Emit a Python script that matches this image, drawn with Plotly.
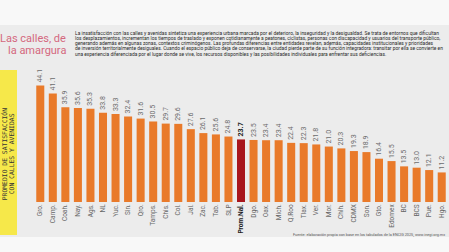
import plotly.graph_objects as go

W, H = 449, 252

states = ["Gro.", "Camp.", "Coah.", "Nay.", "Ags.", "NL", "Yuc.", "Sin.", "Qro.", "Tamps.",
          "Chis.", "Col.", "Jal.", "Zac.", "Tab.", "SLP", "Prom.Nal.", "Dgo.", "Oax.", "Mich.",
          "Q.Roo", "Tlax.", "Ver.", "Mor.", "Chih.", "CDMX", "Son.", "Gto.", "Edomex", "BC",
          "BCS", "Pue.", "Hgo."]
values = [44.1, 41.1, 35.9, 35.6, 35.3, 33.8, 33.3, 32.4, 31.6, 30.5,
          29.7, 29.6, 27.6, 26.1, 25.6, 24.8, 23.7, 23.5, 23.4, 23.4,
          22.4, 22.3, 21.8, 21.0, 20.3, 19.3, 18.9, 16.4, 15.5, 13.5,
          13.0, 12.1, 11.2]
national = "Prom.Nal."

title_lines = ["Las calles, de", "la amargura"]
body_lines = [
    "La insatisfacción con las calles y avenidas sintetiza una experiencia urbana marcada por el deterioro, la inseguridad y la desigualdad. Se trata de entornos que dificultan",
    "los desplazamientos, incrementan los tiempos de traslado y exponen cotidianamente a peatones, ciclistas, personas con discapacidad y usuarios del transporte público,",
    "generando además en algunas zonas, contextos criminógenos. Las profundas diferencias entre entidades revelan, además, capacidades institucionales y prioridades",
    "de inversión territorialmente desiguales. Cuando el espacio público deja de conservarse, la ciudad pierde parte de su función integradora: transitar por ella se convierte en",
    "una experiencia diferenciada por el lugar donde se vive, los recursos disponibles y las posibilidades individuales para enfrentar sus deficiencias.",
]
side_lines = ["PROMEDIO DE SATISFACCIÓN", "CON CALLES Y AVENIDAS"]
source = "Fuente: elaboración propia con base en los tabulados de la ENCIG 2025, www.inegi.org.mx"

ORANGE = "#e97a2a"
DARKRED = "#a8161d"
SANS = "Roboto, Liberation Sans, Arial, sans-serif"

def px(x):
    return x / W

def py(y):
    return 1 - y / H

colors = [DARKRED if s == national else ORANGE for s in states]
texts = [f"<b>{v:.1f}</b>" if s == national else f"{v:.1f}" for s, v in zip(states, values)]
tcolors = ["#222222" if s == national else "#6b6b6b" for s in states]
ticktext = [f"<b><span style='color:#222'>{s}</span></b>" if s == national else s for s in states]

fig = go.Figure(go.Bar(
    x=states, y=values, marker_color=colors, marker_line_width=0,
    text=texts, textposition="outside", textangle=-90, constraintext="none",
    textfont=dict(family=SANS, size=7, color=tcolors), cliponaxis=False,
    hoverinfo="skip",
))

shapes = [
    dict(type="rect", xref="paper", yref="paper", x0=0, x1=1, y0=py(237), y1=py(25),
         fillcolor="#ececec", line_width=0, layer="below"),
    dict(type="rect", xref="paper", yref="paper", x0=0, x1=px(17), y0=py(235), y1=py(70),
         fillcolor="#f6e84a", line_width=0, layer="below"),
]

ann = []
for i, t in enumerate(title_lines):
    ann.append(dict(text=t, x=px(68), y=py(38 + 13 * i), xref="paper", yref="paper",
                    xanchor="right", yanchor="middle", showarrow=False,
                    font=dict(family=SANS, size=11, color="#d4687e")))
for i, t in enumerate(body_lines):
    ann.append(dict(text=t, x=px(73), y=py(32.5 + 5.3 * i), xref="paper", yref="paper",
                    xanchor="left", yanchor="middle", showarrow=False,
                    font=dict(family=SANS, size=4.9, color="#2a2a2a")))
for i, t in enumerate(side_lines):
    ann.append(dict(text=t, x=px(5.3 + 7 * i), y=py(154), xref="paper", yref="paper",
                    xanchor="center", yanchor="middle", textangle=-90, showarrow=False,
                    font=dict(family="DejaVu Sans Mono, monospace", size=6.4, color="#333333")))
ann.append(dict(text=source, x=px(447), y=py(234), xref="paper", yref="paper",
                xanchor="right", yanchor="middle", showarrow=False,
                font=dict(family=SANS, size=3.8, color="#555555")))

fig.update_layout(
    width=W, height=H, margin=dict(l=0, r=0, t=0, b=0),
    paper_bgcolor="#f8f8f8", plot_bgcolor="rgba(0,0,0,0)",
    bargap=0.36, showlegend=False,
    shapes=shapes, annotations=ann,
    xaxis=dict(domain=[px(34), px(448)], tickmode="array", tickvals=states, ticktext=ticktext,
               tickangle=-90, showgrid=False, zeroline=False, showline=False, ticks="",
               tickfont=dict(family=SANS, size=6.5, color="#666666"), fixedrange=True),
    yaxis=dict(domain=[py(202), py(70)], range=[0, 50], visible=False, fixedrange=True),
)

fig.write_html("out.html")
